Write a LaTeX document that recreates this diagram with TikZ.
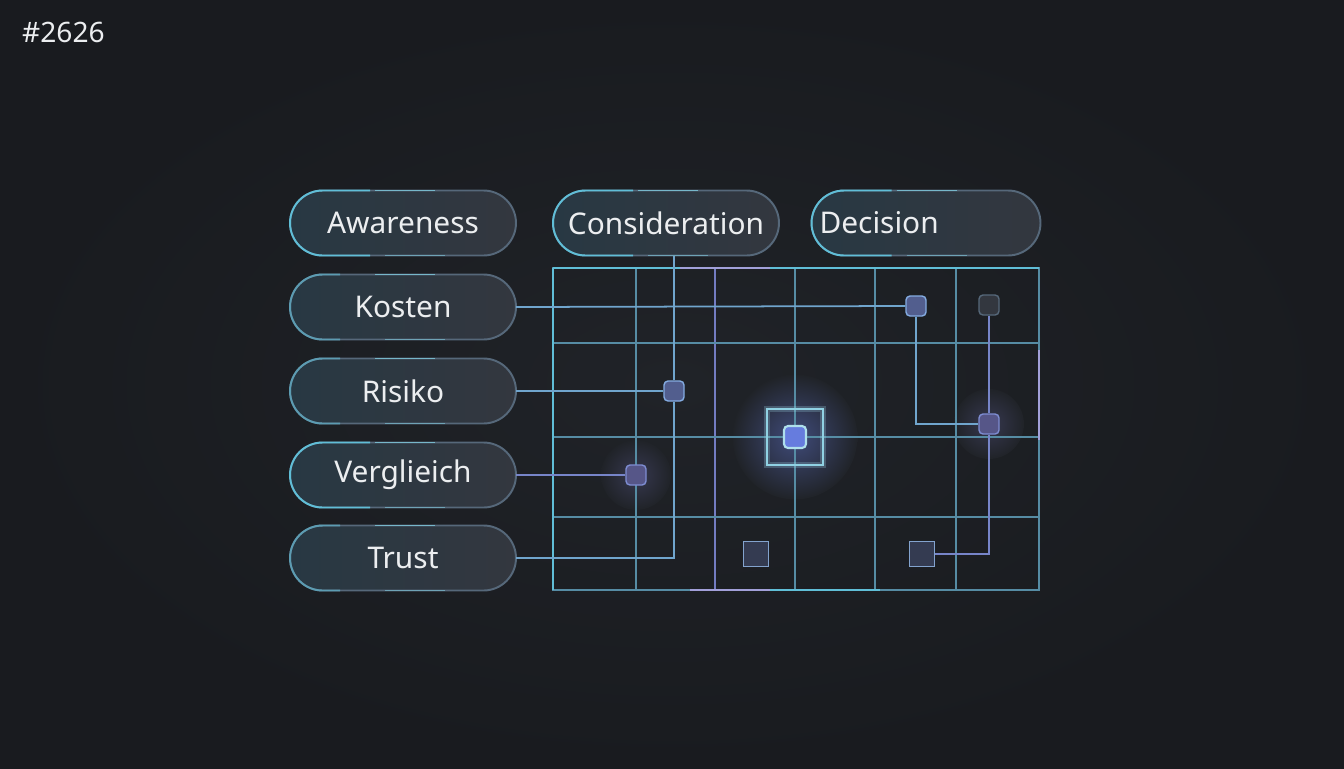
\documentclass[tikz,border=0pt]{standalone}
\usepackage{fontspec}
\setmainfont{Noto Sans}
\usepackage{tikz}
\usetikzlibrary{positioning}

\definecolor{bgin}{RGB}{32,35,40}
\definecolor{bgout}{RGB}{25,27,31}
\definecolor{pillL}{RGB}{40,56,67}
\definecolor{pillR}{RGB}{51,55,63}
\definecolor{edgeGrey}{RGB}{86,104,122}
\definecolor{edgeCyan}{RGB}{96,190,215}
\definecolor{gridC}{RGB}{86,140,164}
\definecolor{gridV}{RGB}{122,120,200}
\definecolor{wireC}{RGB}{112,165,205}
\definecolor{dotFill}{RGB}{82,94,142}
\definecolor{dotEdge}{RGB}{132,172,226}
\definecolor{hubFill}{RGB}{102,124,222}
\definecolor{txt}{RGB}{236,238,240}

\begin{document}
\begin{tikzpicture}[x=0.02cm,y=-0.02cm,
    pill/.style={draw=edgeGrey,line width=1.1pt,left color=pillL,right color=pillR,
        rounded corners=0.65cm,minimum width=4.52cm,minimum height=1.3cm,outer sep=0pt,
        text=txt,font=\fontsize{17}{20}\selectfont},
    gridline/.style={draw=gridC,line width=0.85pt},
    wire/.style={draw=wireC,line width=1pt},
    dot/.style={draw=dotEdge,fill=dotFill,line width=0.8pt,minimum size=0.4cm,
        inner sep=0pt,rounded corners=0.08cm},
    cell/.style={draw=dotEdge!80!gray,fill=dotFill!40!bgin,line width=0.8pt,
        minimum size=0.5cm,inner sep=0pt}]
    \useasboundingbox (0,0) rectangle (1344,768);
    \shade[inner color=bgin,outer color=bgout] (0,0) rectangle (1344,768);

    \node[anchor=west,text=txt,font=\fontsize{16}{19}\selectfont] (tag) at (16,32) {\#2626};

    % glow behind the matrix
    \shade[inner color=hubFill!45!bgin,outer color=bgin] (795,437) circle[radius=1.25cm];
    \shade[inner color=gridV!25!bgin,outer color=bgin] (636,475) circle[radius=0.7cm];
    \shade[inner color=gridV!25!bgin,outer color=bgin] (989,424) circle[radius=0.7cm];

    % matrix
    \draw[gridline] (553,268) rectangle (1039,590);
    \foreach \x in {636,795,875,956}
        \draw[gridline] (\x,268) -- (\x,590);
    \draw[gridline,draw=gridV!80!gridC] (715,268) -- (715,590);
    \foreach \y in {343,437,517}
        \draw[gridline] (553,\y) -- (1039,\y);
    \draw[gridline,draw=edgeCyan] (553,268) -- (553,590);
    \draw[gridline,draw=edgeCyan] (553,268) -- (1039,268);
    \draw[gridline,draw=gridV!70!white] (680,268) -- (770,268);
    \draw[gridline,draw=gridV!70!white] (690,590) -- (770,590);
    \draw[gridline,draw=edgeCyan] (770,590) -- (880,590);
    \draw[gridline,draw=gridV!70!white] (1039,350) -- (1039,440);

    % stages and factors
    \node[pill] (aw) at (403,223) {Awareness};
    \node[pill] (co) at (666,223) {Consideration};
    \node[pill,text width=4.26cm,inner xsep=0.16cm,align=left] (de) at (926,223) {Decision};
    \node[pill] (ko) at (403,307) {Kosten};
    \node[pill] (ri) at (403,391) {Risiko};
    \node[pill] (ve) at (403,475) {Verglieich};
    \node[pill] (tr) at (403,558) {Trust};

    \foreach \n in {aw,co,de,ve} {
        \draw[edgeCyan,line width=1.1pt] ([xshift=1.6cm]\n.north west) -- ([xshift=0.65cm]\n.north west)
            arc[start angle=90,end angle=270,radius=0.65cm] -- ([xshift=1.6cm]\n.south west);
    }
    \foreach \n in {ko,ri,tr} {
        \draw[edgeCyan!60!edgeGrey,line width=1.1pt] ([xshift=1.0cm]\n.north west) -- ([xshift=0.65cm]\n.north west)
            arc[start angle=90,end angle=270,radius=0.65cm] -- ([xshift=1.0cm]\n.south west);
    }
    \foreach \n in {aw,co,de,ko,ri,ve,tr} {
        \draw[edgeCyan!80!white,line width=1.1pt,opacity=0.8] ([xshift=1.7cm]\n.north west) -- ([xshift=2.9cm]\n.north west);
        \draw[edgeCyan!80!white,line width=1.1pt,opacity=0.6] ([xshift=1.9cm]\n.south west) -- ([xshift=3.1cm]\n.south west);
    }

    % cells
    \node[dot] (k1) at (916,306) {};
    \node[dot,draw=edgeGrey,fill=pillR] (k2) at (989,305) {};
    \node[dot] (r1) at (674,391) {};
    \node[dot,fill=gridV!60!bgin,draw=gridV!60!dotEdge] (v1) at (636,475) {};
    \node[dot,fill=gridV!60!bgin,draw=gridV!60!dotEdge] (d2) at (989,424) {};
    \node[cell] (b1) at (756,554) {};
    \node[cell] (b2) at (922,554) {};
    \node[draw=edgeCyan!60!white,line width=3pt,opacity=0.25,minimum size=1.12cm] at (795,437) {};
    \node[draw=edgeCyan!70!white,line width=1pt,minimum size=1.12cm] (hubbox) at (795,437) {};
    \node[dot,fill=hubFill,draw=edgeCyan!50!white,line width=1.2pt,minimum size=0.44cm] (hub) at (795,437) {};

    % links
    \draw[wire] (ko.east) -- (k1.west);
    \draw[wire] (ri.east) -- (r1.west);
    \draw[wire,draw=gridV!70!wireC] (ve.east) -- (v1.west);
    \draw[wire] (tr.east) -| (r1.south);
    \draw[wire] (r1.north) -- (r1 |- co.south);
    \draw[wire] (k1.south) |- (d2.west);
    \draw[wire,draw=gridV!70!wireC] (k2.south) -- (d2.north);
    \draw[wire,draw=gridV!70!wireC] (d2.south) |- (b2.east);
\end{tikzpicture}
\end{document}
